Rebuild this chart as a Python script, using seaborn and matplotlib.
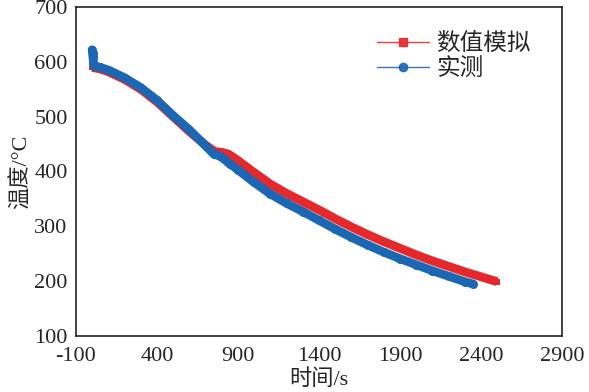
import numpy as np
import pandas as pd
import seaborn as sns
import matplotlib
matplotlib.use("Agg")
import matplotlib.pyplot as plt
from matplotlib.lines import Line2D

# values
sim_time = [0, 50, 100, 200, 300, 400, 500, 600, 700, 760, 800, 840, 900, 1000,
            1100, 1200, 1300, 1400, 1500, 1600, 1700, 1800, 1900, 2000, 2100,
            2200, 2300, 2400, 2500]
sim_temp = [590, 587, 582, 568, 550, 527, 500, 473, 448, 436, 435, 432, 420, 398,
            377, 360, 345, 330, 314, 299, 285, 272, 260, 248, 237, 227, 217, 208, 199]

meas_time = [0, 2, 5, 8, 12, 50, 100, 200, 300, 400, 500, 600, 700, 750, 790, 850,
             900, 1000, 1100, 1200, 1300, 1400, 1500, 1600, 1700, 1800, 1900, 2000,
             2100, 2200, 2300, 2350]
meas_temp = [622, 616, 608, 598, 593, 590, 585, 571, 553, 530, 502, 476, 447, 432,
             428, 414, 403, 380, 359, 342, 327, 311, 295, 280, 266, 253, 241, 230,
             219, 209, 199, 195]

labels = ["数值模拟", "实测"]
xticks = [-100, 400, 900, 1400, 1900, 2400, 2900]
yticks = [100, 200, 300, 400, 500, 600, 700]

red = "#e5282b"
blue = "#1b67b4"

sns.set_style("white")
plt.rcParams["font.family"] = ["Liberation Serif", "Noto Sans CJK SC"]

fig = plt.figure(figsize=(5.89, 3.92), dpi=100)
ax = fig.add_axes([0.129, 0.143, 0.825, 0.839])

sim = pd.DataFrame({"t": sim_time, "T": sim_temp})
meas = pd.DataFrame({"t": meas_time, "T": meas_temp})

sns.lineplot(data=sim, x="t", y="T", color=red, linewidth=6.3, marker="s",
             markersize=4.5, markeredgewidth=0, legend=False, ax=ax,
             solid_capstyle="butt", solid_joinstyle="round")
sns.lineplot(data=meas, x="t", y="T", color=blue, linewidth=6.3, marker="o",
             markersize=6.5, markeredgewidth=0, legend=False, ax=ax,
             solid_capstyle="round", solid_joinstyle="round")

ax.set_xlim(-100, 2900)
ax.set_ylim(100, 700)
ax.set_xticks(xticks)
ax.set_yticks(yticks)
ax.set_xticklabels([str(v) for v in xticks])
ax.set_yticklabels([str(v) for v in yticks])
ax.tick_params(axis="x", direction="in", length=5, width=1, labelsize=16, pad=8, color="#222222")
ax.tick_params(axis="y", direction="out", length=4, width=1, labelsize=16, pad=2, color="#222222")
for s in ax.spines.values():
    s.set_color("#222222")
    s.set_linewidth(1.2)

ax.set_xlabel("时间/s", fontsize=16, labelpad=2)
ax.set_ylabel("温度/°C", fontsize=16, labelpad=2)

handles = [Line2D([], [], color=red, linewidth=1, marker="s", markersize=6, alpha=0.9),
           Line2D([], [], color=blue, linewidth=1, marker="o", markersize=6, alpha=0.9)]
ax.legend(handles, labels, loc="upper left", bbox_to_anchor=(0.59, 0.965), frameon=False,
          fontsize=17, handlelength=2.2, handletextpad=0.3, labelspacing=0.15,
          borderaxespad=0.2)

fig.savefig("out.png", dpi=100)
